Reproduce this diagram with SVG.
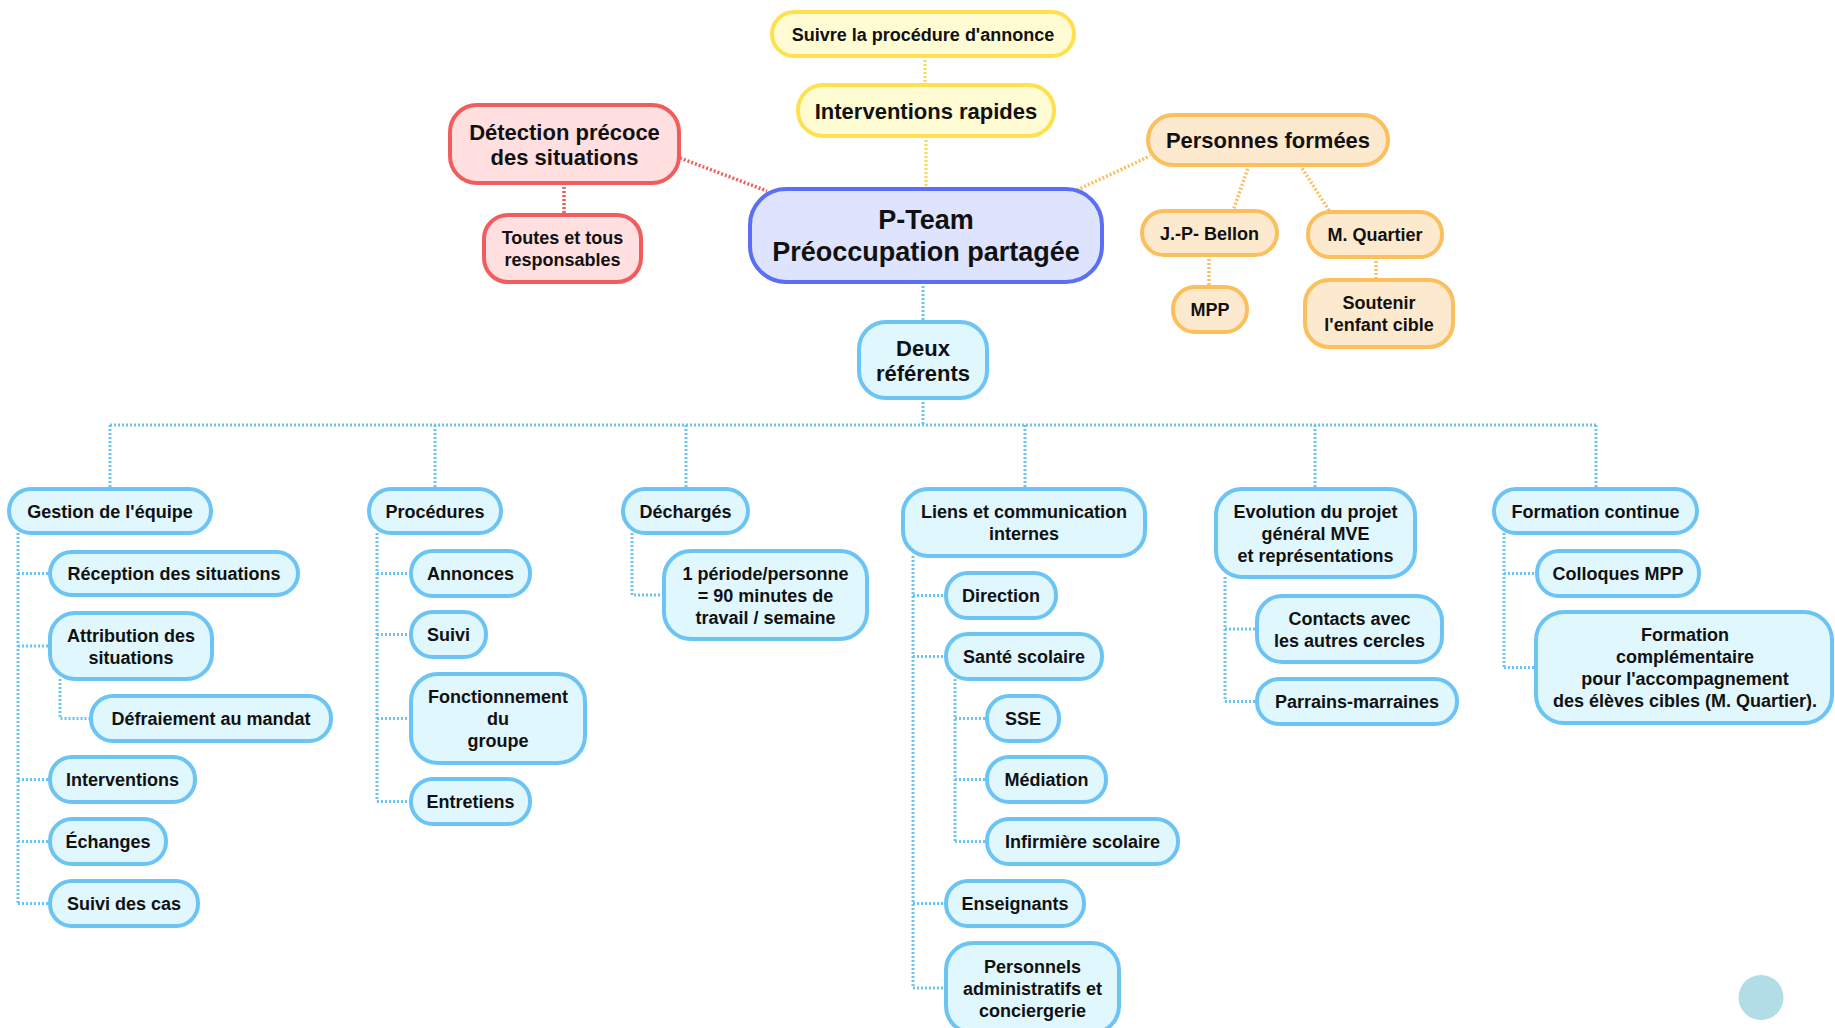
<svg xmlns="http://www.w3.org/2000/svg" width="1835" height="1028" viewBox="0 0 1835 1028">
<style>
text{font-family:"Liberation Sans",Arial,sans-serif;font-weight:bold;fill:#111;text-anchor:middle}
.f18{font-size:18px}.f22{font-size:22px}.f27{font-size:27px}
.b rect{fill:#e0f7fe;stroke:#6cc4f5;stroke-width:4}
.y rect{fill:#fffbd2;stroke:#ffe14f;stroke-width:4}
.r rect{fill:#ffdfdf;stroke:#f25c5c;stroke-width:4}
.o rect{fill:#fde9cd;stroke:#fbbf5d;stroke-width:4}
.c rect{fill:#dee3fe;stroke:#5b6ff5;stroke-width:4}
.cb{fill:none;stroke:#6cc4f5;stroke-width:3;stroke-dasharray:2 2}
.cy{fill:none;stroke:#ffd84a;stroke-width:3;stroke-dasharray:2 2}
.cr{fill:none;stroke:#f25c5c;stroke-width:3.5;stroke-dasharray:2 2}
.co{fill:none;stroke:#fbbf5d;stroke-width:3.5;stroke-dasharray:2 2}
</style>
<rect width="1835" height="1028" fill="#ffffff"/>
<g id="connectors">
<path class="cy" d="M925 56V85M926 136V189"/>
<path class="cr" d="M680 158L767 191M564 183V215"/>
<path class="co" d="M1077 190L1150 156M1249 165L1233 211M1300 165L1330 212M1209 255V287M1376 257V280"/>
<path class="cb" d="M923 282V322M923 398V425M110 425H1596M110 425V489M435 425V489M686 425V489M1025 425V489M1315 425V489M1596 425V489"/>
<path class="cb" d="M18 533V903.5M18 573.5H50M18 646H50M18 779.5H50M18 841.5H50M18 903.5H50M60 679V718.5H91"/>
<path class="cb" d="M377 533V801.5M377 573.5H411M377 634.5H411M377 718.5H411M377 801.5H411"/>
<path class="cb" d="M632 533V595H664"/>
<path class="cb" d="M913 556V988M913 595.5H946M913 656.5H946M913 903.5H946M913 988H946M955 679V841.5M955 718.5H987M955 779.5H987M955 841.5H987"/>
<path class="cb" d="M1225 577V701.5M1225 629H1257M1225 701.5H1257"/>
<path class="cb" d="M1504 533V667.5M1504 573.5H1537M1504 667.5H1536"/>
</g>
<g id="suivre" class="y"><rect x="772" y="12" width="302" height="44" rx="22"/><text class="f18" x="923" y="40.5">Suivre la procédure d'annonce</text></g>
<g id="interventions-rapides" class="y"><rect x="798" y="85" width="256" height="51" rx="25"/><text class="f22" x="926" y="118.5">Interventions rapides</text></g>
<g id="detection" class="r"><rect x="450" y="105" width="229" height="78" rx="27"/><text class="f22" x="564.5" y="139.5">Détection précoce</text><text class="f22" x="564.5" y="164.5">des situations</text></g>
<g id="toutes" class="r"><rect x="484" y="215" width="157" height="67" rx="24"/><text class="f18" x="562.5" y="244">Toutes et tous</text><text class="f18" x="562.5" y="266">responsables</text></g>
<g id="pteam" class="c"><rect x="750" y="189" width="352" height="93" rx="36"/><text class="f27" x="926" y="229">P-Team</text><text class="f27" x="926" y="261">Préoccupation partagée</text></g>
<g id="personnes-formees" class="o"><rect x="1148" y="115" width="240" height="50" rx="25"/><text class="f22" x="1268" y="148">Personnes formées</text></g>
<g id="bellon" class="o"><rect x="1142" y="211" width="135" height="44" rx="22"/><text class="f18" x="1209.5" y="239.5">J.-P- Bellon</text></g>
<g id="quartier" class="o"><rect x="1308" y="212" width="134" height="45" rx="22"/><text class="f18" x="1375" y="241">M. Quartier</text></g>
<g id="mpp" class="o"><rect x="1173" y="287" width="74" height="45" rx="22"/><text class="f18" x="1210" y="316">MPP</text></g>
<g id="soutenir" class="o"><rect x="1305" y="280" width="148" height="67" rx="24"/><text class="f18" x="1379" y="309">Soutenir</text><text class="f18" x="1379" y="331">l'enfant cible</text></g>
<g id="deux-referents" class="b"><rect x="859" y="322" width="128" height="76" rx="27"/><text class="f22" x="923" y="355.5">Deux</text><text class="f22" x="923" y="380.5">référents</text></g>
<g id="gestion" class="b"><rect x="9" y="489" width="202" height="44" rx="22"/><text class="f18" x="110" y="517.5">Gestion de l'équipe</text></g>
<g id="procedures" class="b"><rect x="369" y="489" width="132" height="44" rx="22"/><text class="f18" x="435" y="517.5">Procédures</text></g>
<g id="decharges" class="b"><rect x="623" y="489" width="125" height="44" rx="22"/><text class="f18" x="685.5" y="517.5">Déchargés</text></g>
<g id="liens" class="b"><rect x="903" y="489" width="242" height="67" rx="25"/><text class="f18" x="1024" y="518">Liens et communication</text><text class="f18" x="1024" y="540">internes</text></g>
<g id="evolution" class="b"><rect x="1216" y="489" width="199" height="88" rx="26"/><text class="f18" x="1315.5" y="517.5">Evolution du projet</text><text class="f18" x="1315.5" y="539.5">général MVE</text><text class="f18" x="1315.5" y="561.5">et représentations</text></g>
<g id="formation-continue" class="b"><rect x="1494" y="489" width="203" height="44" rx="22"/><text class="f18" x="1595.5" y="517.5">Formation continue</text></g>
<g id="reception" class="b"><rect x="50" y="552" width="248" height="43" rx="21.5"/><text class="f18" x="174" y="580">Réception des situations</text></g>
<g id="attribution" class="b"><rect x="50" y="613" width="162" height="66" rx="25"/><text class="f18" x="131" y="641.5">Attribution des</text><text class="f18" x="131" y="663.5">situations</text></g>
<g id="defraiement" class="b"><rect x="91" y="696" width="240" height="45" rx="22"/><text class="f18" x="211" y="725">Défraiement au mandat</text></g>
<g id="interventions" class="b"><rect x="50" y="757" width="145" height="45" rx="22"/><text class="f18" x="122.5" y="786">Interventions</text></g>
<g id="echanges" class="b"><rect x="50" y="819" width="116" height="45" rx="22"/><text class="f18" x="108" y="848">Échanges</text></g>
<g id="suivi-des-cas" class="b"><rect x="50" y="881" width="148" height="45" rx="22"/><text class="f18" x="124" y="910">Suivi des cas</text></g>
<g id="annonces" class="b"><rect x="411" y="551" width="119" height="45" rx="22"/><text class="f18" x="470.5" y="580">Annonces</text></g>
<g id="suivi" class="b"><rect x="411" y="612" width="75" height="45" rx="22"/><text class="f18" x="448.5" y="641">Suivi</text></g>
<g id="fonctionnement" class="b"><rect x="411" y="674" width="174" height="89" rx="27"/><text class="f18" x="498" y="703">Fonctionnement</text><text class="f18" x="498" y="725">du</text><text class="f18" x="498" y="747">groupe</text></g>
<g id="entretiens" class="b"><rect x="411" y="779" width="119" height="45" rx="22"/><text class="f18" x="470.5" y="808">Entretiens</text></g>
<g id="periode" class="b"><rect x="664" y="551" width="203" height="88" rx="27"/><text class="f18" x="765.5" y="579.5">1 période/personne</text><text class="f18" x="765.5" y="601.5">= 90 minutes de</text><text class="f18" x="765.5" y="623.5">travail / semaine</text></g>
<g id="direction" class="b"><rect x="946" y="573" width="110" height="45" rx="22"/><text class="f18" x="1001" y="602">Direction</text></g>
<g id="sante" class="b"><rect x="946" y="634" width="156" height="45" rx="22"/><text class="f18" x="1024" y="663">Santé scolaire</text></g>
<g id="sse" class="b"><rect x="987" y="696" width="72" height="45" rx="22"/><text class="f18" x="1023" y="725">SSE</text></g>
<g id="mediation" class="b"><rect x="987" y="757" width="119" height="45" rx="22"/><text class="f18" x="1046.5" y="786">Médiation</text></g>
<g id="infirmiere" class="b"><rect x="987" y="819" width="191" height="45" rx="22"/><text class="f18" x="1082.5" y="848">Infirmière scolaire</text></g>
<g id="enseignants" class="b"><rect x="946" y="881" width="138" height="45" rx="22"/><text class="f18" x="1015" y="910">Enseignants</text></g>
<g id="personnels" class="b"><rect x="946" y="943" width="173" height="90" rx="27"/><text class="f18" x="1032.5" y="972.5">Personnels</text><text class="f18" x="1032.5" y="994.5">administratifs et</text><text class="f18" x="1032.5" y="1016.5">conciergerie</text></g>
<g id="contacts" class="b"><rect x="1257" y="596" width="185" height="66" rx="25"/><text class="f18" x="1349.5" y="624.5">Contacts avec</text><text class="f18" x="1349.5" y="646.5">les autres cercles</text></g>
<g id="parrains" class="b"><rect x="1257" y="679" width="200" height="45" rx="22"/><text class="f18" x="1357" y="708">Parrains-marraines</text></g>
<g id="colloques" class="b"><rect x="1537" y="551" width="162" height="45" rx="22"/><text class="f18" x="1618" y="580">Colloques MPP</text></g>
<g id="formation-complementaire" class="b"><rect x="1536" y="612" width="296" height="111" rx="28"/><text class="f18" x="1685" y="641">Formation</text><text class="f18" x="1685" y="663">complémentaire</text><text class="f18" x="1685" y="685">pour l'accompagnement</text><text class="f18" x="1685" y="707">des élèves cibles (M. Quartier).</text></g>
<circle cx="1761" cy="997.5" r="22.5" fill="#b0dde6"/>
</svg>
